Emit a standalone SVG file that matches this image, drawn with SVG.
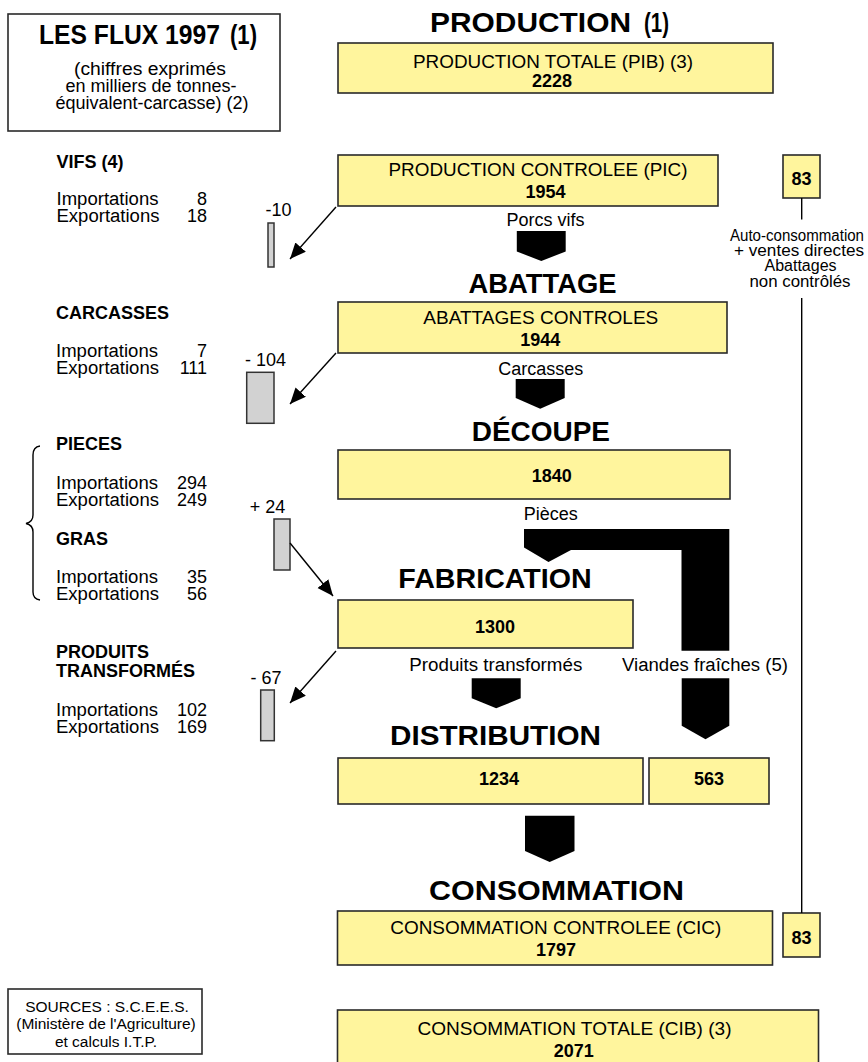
<svg xmlns="http://www.w3.org/2000/svg" width="868" height="1062" viewBox="0 0 868 1062">
<defs>
<style>
.box{fill:#FFF59D;stroke:#2a2a2a;stroke-width:1.6}
.frame{fill:#fff;stroke:#2a2a2a;stroke-width:1.6}
.grey{fill:#D2D2D2;stroke:#333;stroke-width:1.5}
.t{font-family:"Liberation Sans",Arial,sans-serif;font-size:18px;fill:#000}
.s{font-family:"Liberation Sans",Arial,sans-serif;font-size:16px;fill:#000}
.src{font-family:"Liberation Sans",Arial,sans-serif;font-size:15.5px;fill:#000}
.b{font-weight:bold}
.m{text-anchor:middle}
.e{text-anchor:end}
.h{font-family:"Liberation Sans",Arial,sans-serif;font-weight:bold;font-size:28px;fill:#000}
.flow{fill:#000}
.ln{stroke:#000;stroke-width:1.4;fill:none}
</style>
<marker id="ah" markerUnits="userSpaceOnUse" markerWidth="18" markerHeight="16" refX="16" refY="7" orient="auto">
<path d="M0,0 L16,7 L0,14 Z" fill="#000"/>
</marker>
</defs>
<rect width="868" height="1062" fill="#fff"/>

<g id="title">
<rect class="frame" x="8" y="14" width="272" height="117"/>
<text class="h" x="39" y="44" font-size="25" textLength="181" lengthAdjust="spacingAndGlyphs">LES FLUX 1997</text>
<text class="h" x="230" y="44" font-size="18" textLength="27" lengthAdjust="spacingAndGlyphs">(1)</text>
<text class="t m" x="150" y="75" textLength="152" lengthAdjust="spacingAndGlyphs">(chiffres exprimés</text>
<text class="t m" x="151" y="92">en milliers de tonnes-</text>
<text class="t m" x="152" y="109" textLength="193" lengthAdjust="spacingAndGlyphs">équivalent-carcasse) (2)</text>
</g>

<g id="headings">
<text class="h" x="430" y="32" textLength="201" lengthAdjust="spacingAndGlyphs">PRODUCTION</text>
<text class="h" x="644" y="32" font-size="19" textLength="25" lengthAdjust="spacingAndGlyphs">(1)</text>
<text class="h" x="468.5" y="293" textLength="148" lengthAdjust="spacingAndGlyphs">ABATTAGE</text>
<text class="h" x="471.7" y="441" textLength="138.3" lengthAdjust="spacingAndGlyphs">DÉCOUPE</text>
<text class="h" x="398.3" y="588" textLength="193.4" lengthAdjust="spacingAndGlyphs">FABRICATION</text>
<text class="h" x="390" y="745" textLength="211" lengthAdjust="spacingAndGlyphs">DISTRIBUTION</text>
<text class="h" x="429" y="899.5" textLength="255" lengthAdjust="spacingAndGlyphs">CONSOMMATION</text>
</g>

<g id="pib">
<rect class="box" x="338" y="43" width="435" height="50"/>
<text class="t m" x="553" y="68" textLength="280" lengthAdjust="spacingAndGlyphs">PRODUCTION TOTALE (PIB) (3)</text>
<text class="t b m" x="552" y="87">2228</text>
</g>

<g id="pic">
<rect class="box" x="338" y="155" width="380" height="51"/>
<text class="t m" x="538" y="176" textLength="299" lengthAdjust="spacingAndGlyphs">PRODUCTION CONTROLEE (PIC)</text>
<text class="t b m" x="545.5" y="198">1954</text>
</g>

<g id="auto-top">
<rect class="box" x="783" y="155" width="37" height="43"/>
<text class="t b m" x="801.5" y="185">83</text>
</g>

<g id="auto-label">
<text class="s m" x="797" y="240.7" textLength="134" lengthAdjust="spacingAndGlyphs">Auto-consommation</text>
<text class="s m" x="799" y="255.5" textLength="130" lengthAdjust="spacingAndGlyphs">+ ventes directes</text>
<text class="s m" x="800.5" y="271">Abattages</text>
<text class="s m" x="800" y="287" textLength="101" lengthAdjust="spacingAndGlyphs">non contrôlés</text>
</g>

<g id="abattages">
<rect class="box" x="338" y="302" width="389" height="51"/>
<text class="t m" x="540.8" y="324" textLength="235" lengthAdjust="spacingAndGlyphs">ABATTAGES CONTROLES</text>
<text class="t b m" x="540.3" y="346">1944</text>
</g>

<g id="decoupe">
<rect class="box" x="338" y="450" width="392" height="49"/>
<text class="t b m" x="551.7" y="482">1840</text>
</g>

<g id="fabrication">
<rect class="box" x="338" y="600" width="295" height="48"/>
<text class="t b m" x="495" y="633">1300</text>
</g>

<g id="distrib-pt">
<rect class="box" x="338" y="758" width="305" height="46"/>
<text class="t b m" x="499" y="785">1234</text>
</g>

<g id="distrib-vf">
<rect class="box" x="649" y="758" width="120" height="46"/>
<text class="t b m" x="709" y="785">563</text>
</g>

<g id="cic">
<rect class="box" x="337.5" y="911" width="435" height="54"/>
<text class="t m" x="555.8" y="934" textLength="331" lengthAdjust="spacingAndGlyphs">CONSOMMATION CONTROLEE (CIC)</text>
<text class="t b m" x="556" y="956">1797</text>
</g>

<g id="auto-bottom">
<rect class="box" x="783" y="913" width="37" height="44"/>
<text class="t b m" x="801.5" y="944">83</text>
</g>

<g id="cib">
<rect class="box" x="337.5" y="1010" width="481" height="70"/>
<text class="t m" x="574.5" y="1035" textLength="314" lengthAdjust="spacingAndGlyphs">CONSOMMATION TOTALE (CIB) (3)</text>
<text class="t b m" x="573.7" y="1056.5">2071</text>
</g>

<g id="sources">
<rect class="frame" x="8" y="989" width="194" height="65"/>
<text class="src m" x="107" y="1011.5">SOURCES : S.C.E.E.S.</text>
<text class="src m" x="106" y="1029">(Ministère de l'Agriculture)</text>
<text class="src m" x="106" y="1047">et calculs I.T.P.</text>
</g>

<g id="vifs">
<text class="t b" x="56.5" y="168">VIFS (4)</text>
<text class="t" x="56.5" y="205" textLength="102" lengthAdjust="spacingAndGlyphs">Importations</text><text class="t e" x="207" y="205">8</text>
<text class="t" x="56.5" y="222" textLength="103" lengthAdjust="spacingAndGlyphs">Exportations</text><text class="t e" x="207" y="222">18</text>
</g>

<g id="carcasses">
<text class="t b" x="56" y="319">CARCASSES</text>
<text class="t" x="56" y="357" textLength="102" lengthAdjust="spacingAndGlyphs">Importations</text><text class="t e" x="207" y="357">7</text>
<text class="t" x="56" y="374" textLength="103" lengthAdjust="spacingAndGlyphs">Exportations</text><text class="t e" x="207" y="374">111</text>
</g>

<g id="pieces-gras">
<path class="ln" d="M40,446 Q33,447 33,455 L33,515 Q33,522 26,523.5 Q33,525 33,532 L33,592 Q33,599 40,600" stroke-width="1.2"/>
<text class="t b" x="56" y="450">PIECES</text>
<text class="t" x="56" y="489" textLength="102" lengthAdjust="spacingAndGlyphs">Importations</text><text class="t e" x="207" y="489">294</text>
<text class="t" x="56" y="506" textLength="103" lengthAdjust="spacingAndGlyphs">Exportations</text><text class="t e" x="207" y="506">249</text>
<text class="t b" x="56" y="545">GRAS</text>
<text class="t" x="56" y="583" textLength="102" lengthAdjust="spacingAndGlyphs">Importations</text><text class="t e" x="207" y="583">35</text>
<text class="t" x="56" y="600" textLength="103" lengthAdjust="spacingAndGlyphs">Exportations</text><text class="t e" x="207" y="600">56</text>
</g>

<g id="produits">
<text class="t b" x="56" y="658">PRODUITS</text>
<text class="t b" x="56" y="677">TRANSFORMÉS</text>
<text class="t" x="56" y="716" textLength="102" lengthAdjust="spacingAndGlyphs">Importations</text><text class="t e" x="207" y="716">102</text>
<text class="t" x="56" y="733" textLength="103" lengthAdjust="spacingAndGlyphs">Exportations</text><text class="t e" x="207" y="733">169</text>
</g>

<g id="balance-vifs">
<rect class="grey" x="268" y="223" width="6" height="44"/>
<text class="t m" x="278.5" y="216">-10</text>
</g>
<g id="balance-carcasses">
<rect class="grey" x="246.7" y="372.3" width="27.3" height="51"/>
<text class="t m" x="265.5" y="366">- 104</text>
</g>
<g id="balance-pieces">
<rect class="grey" x="274" y="519" width="16" height="51"/>
<text class="t m" x="267.5" y="513">+ 24</text>
</g>
<g id="balance-produits">
<rect class="grey" x="260.7" y="690" width="13.6" height="50.7"/>
<text class="t m" x="266" y="684">- 67</text>
</g>

<g id="connectors">
<line class="ln" x1="336" y1="207" x2="290" y2="259" marker-end="url(#ah)"/>
<line class="ln" x1="336" y1="353" x2="290" y2="404" marker-end="url(#ah)"/>
<line class="ln" x1="290" y1="543" x2="333" y2="596" marker-end="url(#ah)"/>
<line class="ln" x1="336" y1="651" x2="290" y2="703" marker-end="url(#ah)"/>
<line class="ln" x1="801.7" y1="198" x2="801.7" y2="219.5"/>
<line class="ln" x1="801.7" y1="298" x2="801.7" y2="913"/>
<text class="t m" x="545.5" y="226">Porcs vifs</text>
<polygon class="flow" points="516.8,231 565.7,231 565.7,251.5 541.3,261 516.8,251.5"/>
<text class="t m" x="540.7" y="375">Carcasses</text>
<polygon class="flow" points="515.7,379 564.7,379 564.7,398 540.2,408.7 515.7,398"/>
<text class="t m" x="550.7" y="520">Pièces</text>
<polygon class="flow" points="524,529 729.3,529 729.3,650.7 681.5,650.7 681.5,550 571,550 548.5,562 524,547.5"/>
<text class="t m" x="495.8" y="670.7" textLength="173" lengthAdjust="spacingAndGlyphs">Produits transformés</text>
<polygon class="flow" points="471.7,678.3 520.7,678.3 520.7,698.3 496.2,708.3 471.7,698.3"/>
<text class="t m" x="705" y="670.7" textLength="166" lengthAdjust="spacingAndGlyphs">Viandes fraîches (5)</text>
<polygon class="flow" points="681.7,678.3 729.3,678.3 729.3,725.7 705.5,739.3 681.7,725.7"/>
<polygon class="flow" points="525,815.7 574.5,815.7 574.5,851 549.7,862 525,851"/>
</g>
</svg>
